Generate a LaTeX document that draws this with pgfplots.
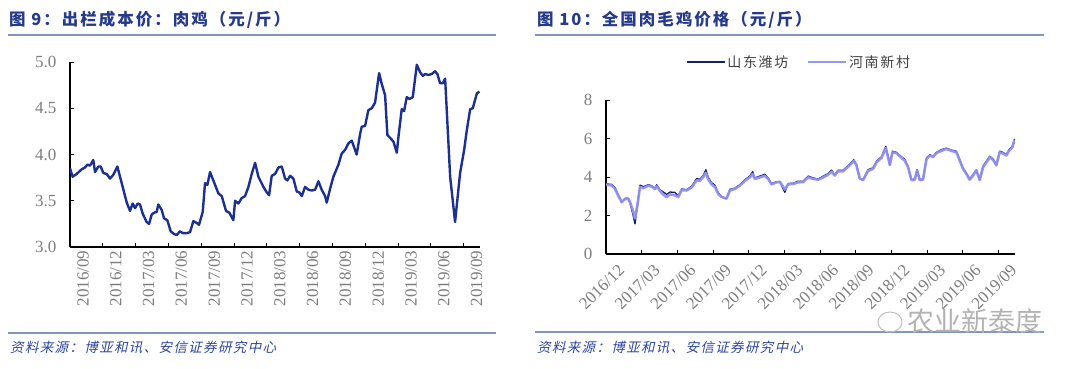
\documentclass[border=0pt]{standalone}
\usepackage{pgfplots}
\pgfplotsset{compat=1.18}
\usepackage{fontspec}
\setmainfont{Liberation Serif}
\newfontfamily\cjk{Noto Sans CJK SC}
\newfontfamily\cjksp[LetterSpace=12]{Noto Sans CJK SC}
\newfontfamily\cjkit[FakeSlant=0.22,LetterSpace=10]{Noto Sans CJK SC}
\definecolor{titleblue}{RGB}{38,58,140}
\definecolor{ruleblue}{RGB}{130,148,198}
\definecolor{srcblue}{RGB}{45,70,160}
\definecolor{lineblue}{RGB}{28,48,145}
\definecolor{navy}{RGB}{22,30,105}
\definecolor{lav}{RGB}{145,145,240}
\definecolor{ticklab}{RGB}{125,125,125}

\pgfplotstableread{
m v
0.00 3.85
0.24 3.76
0.61 3.79
1.07 3.84
1.37 3.86
1.59 3.89
1.83 3.88
2.13 3.94
2.29 3.81
2.59 3.87
2.81 3.87
3.05 3.80
3.35 3.79
3.66 3.74
3.96 3.78
4.33 3.87
4.73 3.69
5.19 3.48
5.49 3.39
5.73 3.47
5.95 3.42
6.19 3.47
6.40 3.46
6.65 3.36
7.01 3.27
7.23 3.25
7.47 3.35
7.68 3.37
7.93 3.38
8.08 3.46
8.39 3.40
8.60 3.31
8.90 3.29
9.21 3.17
9.52 3.14
9.76 3.13
10.06 3.17
10.31 3.15
10.67 3.15
10.98 3.16
11.28 3.28
11.59 3.26
11.80 3.24
12.14 3.38
12.35 3.69
12.56 3.67
12.81 3.81
13.11 3.72
13.57 3.58
13.88 3.55
14.27 3.39
14.58 3.37
14.94 3.29
15.10 3.50
15.40 3.47
15.71 3.53
16.01 3.55
16.32 3.65
16.62 3.79
16.93 3.91
17.23 3.76
17.69 3.65
18.00 3.59
18.21 3.56
18.45 3.77
18.76 3.79
19.06 3.86
19.37 3.87
19.67 3.74
19.88 3.72
20.13 3.77
20.43 3.74
20.74 3.60
20.98 3.59
21.20 3.55
21.50 3.65
21.80 3.62
22.11 3.61
22.42 3.62
22.72 3.71
23.02 3.62
23.33 3.55
23.48 3.48
23.79 3.63
24.09 3.76
24.55 3.89
24.85 4.01
25.16 4.05
25.46 4.12
25.77 4.15
25.98 4.08
26.22 4.00
26.53 4.22
26.68 4.30
26.99 4.31
27.29 4.48
27.60 4.50
27.90 4.56
28.27 4.88
28.52 4.76
28.82 4.64
29.03 4.21
29.28 4.18
29.58 4.14
29.89 4.02
30.04 4.19
30.34 4.49
30.56 4.47
30.80 4.62
31.04 4.60
31.35 4.62
31.72 4.97
32.02 4.89
32.27 4.85
32.48 4.87
32.78 4.86
33.09 4.87
33.39 4.90
33.60 4.87
33.85 4.77
34.10 4.77
34.31 4.82
34.77 3.76
35.22 3.27
35.68 3.80
36.05 4.05
36.29 4.26
36.60 4.49
36.84 4.50
37.21 4.66
37.45 4.68
}\costtable

\pgfplotstableread{
m v
0.00 3.64
0.48 3.62
0.76 3.45
1.04 3.06
1.32 2.67
1.60 2.89
1.88 2.89
2.02 2.63
2.24 2.11
2.44 1.56
2.63 2.46
2.86 3.58
3.14 3.50
3.56 3.60
3.84 3.55
4.12 3.41
4.26 3.60
4.54 3.34
4.82 3.22
5.10 3.10
5.38 3.22
5.80 3.20
6.08 3.02
6.36 3.38
6.78 3.34
7.20 3.52
7.62 3.92
7.90 3.88
8.18 4.08
8.40 4.38
8.60 3.98
8.88 3.70
9.16 3.58
9.44 3.18
9.72 2.98
10.14 2.87
10.42 3.36
10.84 3.42
11.26 3.60
11.68 3.86
12.10 4.05
12.33 4.28
12.52 3.95
12.94 4.05
13.36 4.14
13.64 3.95
13.92 3.66
14.34 3.76
14.62 3.74
15.04 3.20
15.32 3.66
15.74 3.68
16.16 3.78
16.58 3.78
17.00 4.05
17.42 3.95
17.84 3.90
18.26 4.04
18.68 4.18
18.97 4.36
19.24 4.12
19.52 4.35
19.94 4.35
20.23 4.52
20.65 4.76
20.84 4.90
21.07 4.64
21.34 3.95
21.62 3.86
22.04 4.38
22.46 4.48
22.75 4.82
23.17 5.05
23.53 5.60
23.72 5.08
23.87 4.64
24.09 5.34
24.43 5.28
24.85 5.05
25.13 4.92
25.40 4.56
25.69 3.86
25.97 3.90
26.16 4.38
26.39 3.86
26.66 3.90
26.95 4.98
27.23 5.16
27.51 5.08
27.79 5.28
28.21 5.42
28.63 5.50
29.05 5.40
29.47 5.34
29.75 4.90
30.03 4.46
30.31 4.20
30.59 3.90
30.87 4.12
31.15 4.38
31.43 3.86
31.71 4.56
31.99 4.82
32.27 5.08
32.55 4.94
32.83 4.64
33.11 5.34
33.39 5.28
33.67 5.16
33.89 5.42
34.17 5.60
34.37 5.98
}\sdtable

\pgfplotstableread{
m v
0.00 3.60
0.48 3.56
0.76 3.38
1.04 3.02
1.32 2.70
1.60 2.86
1.88 2.86
2.02 2.70
2.24 2.30
2.44 1.85
2.63 2.50
2.86 3.48
3.14 3.42
3.56 3.55
3.84 3.50
4.12 3.38
4.26 3.52
4.54 3.28
4.82 3.08
5.10 2.95
5.38 3.10
5.80 3.05
6.08 2.96
6.36 3.32
6.78 3.30
7.20 3.46
7.62 3.82
7.90 3.80
8.18 4.00
8.40 4.22
8.60 3.88
8.88 3.62
9.16 3.48
9.44 3.12
9.72 2.96
10.14 2.88
10.42 3.30
10.84 3.38
11.26 3.55
11.68 3.80
12.10 3.98
12.33 4.15
12.52 3.90
12.94 3.98
13.36 4.06
13.64 3.90
13.92 3.62
14.34 3.72
14.62 3.76
15.04 3.35
15.32 3.62
15.74 3.64
16.16 3.72
16.58 3.74
17.00 3.98
17.42 3.90
17.84 3.86
18.26 3.98
18.68 4.12
18.97 4.28
19.24 4.08
19.52 4.30
19.94 4.30
20.23 4.46
20.65 4.70
20.84 4.84
21.07 4.60
21.34 3.92
21.62 3.84
22.04 4.32
22.46 4.42
22.75 4.76
23.17 5.00
23.53 5.50
23.72 5.04
23.87 4.62
24.09 5.28
24.43 5.24
24.85 5.00
25.13 4.84
25.40 4.52
25.69 3.84
25.97 3.86
26.16 4.34
26.39 3.84
26.66 3.86
26.95 4.92
27.23 5.12
27.51 5.04
27.79 5.24
28.21 5.36
28.63 5.46
29.05 5.36
29.47 5.28
29.75 4.86
30.03 4.42
30.31 4.16
30.59 3.86
30.87 4.08
31.15 4.34
31.43 3.84
31.71 4.50
31.99 4.76
32.27 5.02
32.55 4.90
32.83 4.60
33.11 5.28
33.39 5.22
33.67 5.12
33.89 5.36
34.17 5.54
34.37 5.94
}\hntable

\begin{document}
\begin{tikzpicture}[x=1pt,y=1pt]
\path[use as bounding box] (0,0) rectangle (1080,368);
% titles and rules
\node[anchor=west, inner sep=0pt, text=titleblue, font=\cjksp\bfseries\fontsize{16.5}{19}\selectfont] at (9,348) {图 9：出栏成本价：肉鸡（元/斤）};
\node[anchor=west, inner sep=0pt, text=titleblue, font=\cjksp\bfseries\fontsize{16.5}{19}\selectfont] at (537,348) {图 10：全国肉毛鸡价格（元/斤）};
\draw[ruleblue, line width=1.6pt] (8,333) -- (496,333);
\draw[ruleblue, line width=1.6pt] (535,333) -- (1044,333);
\draw[ruleblue, line width=1.6pt] (8,35) -- (496,35);
\draw[ruleblue, line width=1.6pt] (535,36) -- (1044,36);
\node[anchor=west, inner sep=0pt, text=srcblue, font=\cjkit\fontsize{13.5}{15}\selectfont] at (10,21) {资料来源：博亚和讯、安信证券研究中心};
\node[anchor=west, inner sep=0pt, text=srcblue, font=\cjkit\fontsize{13.5}{15}\selectfont] at (537,21) {资料来源：博亚和讯、安信证券研究中心};
% watermark
\draw[black!25, line width=1pt] (890,46) ellipse (12pt and 10pt);
\node[anchor=west, inner sep=0pt, text=black!30, font=\cjk\fontsize{27}{29}\selectfont] at (907,47) {农业新泰度};

\begin{axis}[
  at={(70pt,121pt)}, anchor=south west, scale only axis,
  width=410pt, height=185pt,
  xmin=0, xmax=37.5, ymin=3, ymax=5,
  axis x line*=bottom, axis y line*=left,
  axis line style={black, line width=1.1pt, -},
  tick style={black, line width=1pt},
  major tick length=4pt,
  tick align=inside,
  xtick={0,3,...,36},
  xticklabels={2016/09,2016/12,2017/03,2017/06,2017/09,2017/12,2018/03,2018/06,2018/09,2018/12,2019/03,2019/06,2019/09},
  ytick={3,3.5,4,4.5,5},
  /pgf/number format/assume math mode=true,
  tick label style={text=ticklab, font=\fontsize{17}{19}\selectfont},
  x tick label style={rotate=90, anchor=east, xshift=0pt, yshift=-13pt},
  y tick label style={xshift=-10pt, /pgf/number format/fixed, /pgf/number format/fixed zerofill, /pgf/number format/precision=1},
]
\addplot[lineblue, line width=2.4pt, line join=round] table[x=m, y=v] {\costtable};
\end{axis}

\begin{axis}[
  at={(606pt,114pt)}, anchor=south west, scale only axis,
  width=409pt, height=154pt,
  xmin=0, xmax=34.4, ymin=0, ymax=8,
  axis x line*=bottom, axis y line*=left,
  axis line style={black, line width=1.1pt, -},
  tick style={black, line width=1pt},
  major tick length=4pt,
  tick align=inside,
  xtick={0,3,...,33},
  xticklabels={2016/12,2017/03,2017/06,2017/09,2017/12,2018/03,2018/06,2018/09,2018/12,2019/03,2019/06,2019/09},
  ytick={0,2,4,6,8},
  /pgf/number format/assume math mode=true,
  tick label style={text=ticklab, font=\fontsize{17}{19}\selectfont},
  x tick label style={rotate=45, anchor=north east, xshift=5pt, yshift=-11pt},
  y tick label style={xshift=-10pt},
  legend columns=2,
  legend style={at={(0.472,1.247)}, anchor=center, draw=none, fill=none,
    font=\cjksp\fontsize{14}{16}\selectfont, text=black!75,
    /tikz/every even column/.append style={column sep=16pt}},
  legend image code/.code={\draw[#1] (0pt,0pt) -- (38pt,0pt);},
]
\addplot[navy, line width=1.3pt, line join=round] table[x=m, y=v] {\sdtable};
\addlegendentry{山东潍坊}
\addplot[lav, line width=2.6pt, line join=round, opacity=0.95] table[x=m, y=v] {\hntable};
\addlegendentry{河南新村}
\end{axis}
\end{tikzpicture}
\end{document}
